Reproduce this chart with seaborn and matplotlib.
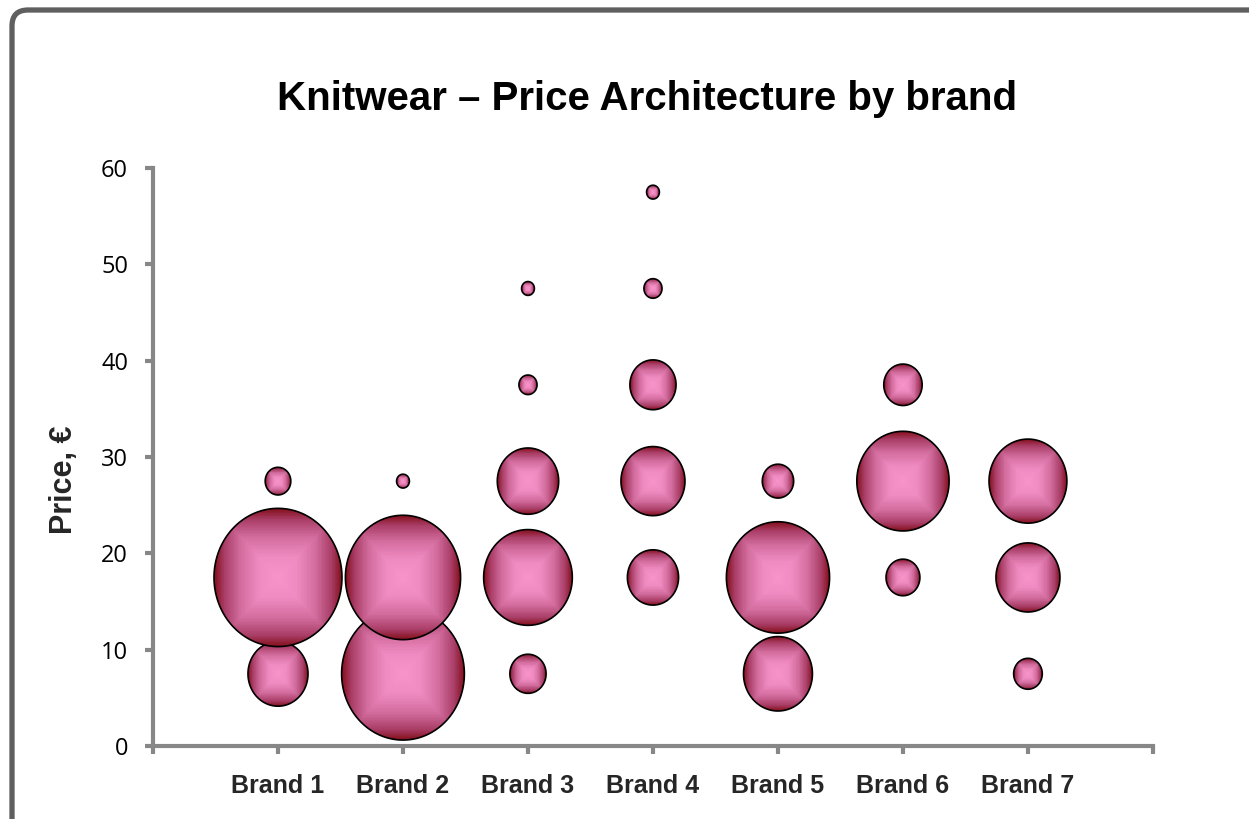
import numpy as np
import pandas as pd
import seaborn as sns
import matplotlib.pyplot as plt
from matplotlib.path import Path
from matplotlib.markers import MarkerStyle
from matplotlib.patches import FancyBboxPatch
from matplotlib.transforms import IdentityTransform
from matplotlib.colors import LinearSegmentedColormap

# Data - one entry per bubble
brands = ["Brand 1", "Brand 2", "Brand 3", "Brand 4", "Brand 5", "Brand 6", "Brand 7"]
bubble_brand = [1, 1, 1, 2, 2, 2, 3, 3, 3, 3, 3, 4, 4, 4, 4, 4, 5, 5, 5, 6, 6, 6, 7, 7, 7]
bubble_price = [7.5, 17.5, 27.5, 7.5, 17.5, 27.5, 7.5, 17.5, 27.5, 37.5, 47.5,
                17.5, 27.5, 37.5, 47.5, 57.5, 7.5, 17.5, 27.5, 17.5, 27.5, 37.5,
                7.5, 17.5, 27.5]
bubble_share = [22, 100, 4, 92, 81, 1, 8, 48, 23, 2, 1,
                16, 25, 13, 2, 1, 29, 65, 6, 7, 52, 9,
                5, 25, 37]
y_ticks = [0, 10, 20, 30, 40, 50, 60]

df = pd.DataFrame({"brand": bubble_brand, "price": bubble_price, "share": bubble_share})

sns.set_theme(style="white")
plt.rcParams["font.family"] = ["Liberation Sans", "DejaVu Sans"]

fig = plt.figure(figsize=(12.49, 8.19), dpi=100)
ax = fig.add_axes([0.1225, 0.0891, 0.8006, 0.7057])

size_per_unit = 99      # marker area (pt^2) per share point
stretch = 1.08          # bubbles are slightly taller than wide
grad = LinearSegmentedColormap.from_list(
    "knit", [(0, "#f994ca"), (0.3, "#f08bc2"), (0.6, "#d26c9d"),
             (0.85, "#a93d66"), (1, "#86121f")])


def layer_marker(lev):
    # rectangular gradient band: square of half-side lev clipped by the circle
    th = np.linspace(0, 2 * np.pi, 241)
    r = np.minimum(1.0, lev / np.maximum(np.abs(np.cos(th)), np.abs(np.sin(th))))
    verts = np.column_stack([r * np.cos(th), r * np.sin(th) * stretch])
    return MarkerStyle(Path(verts, closed=True))


levels = np.linspace(1.0, 0.03, 45)

# draw band by band so higher bands sit on top of lower ones
for i, price in enumerate(sorted(df["price"].unique())):
    band = df[df["price"] == price]
    base = band["share"].to_numpy() * size_per_unit
    z = 3 + 2 * i
    for lev in levels:
        sns.scatterplot(data=band, x="brand", y="price", s=base * lev ** 2,
                        marker=layer_marker(lev), color=grad(lev),
                        edgecolor="none", linewidth=0, legend=False, ax=ax, zorder=z)
    sns.scatterplot(data=band, x="brand", y="price", s=base,
                    marker=layer_marker(1.0), color="black", facecolor="none",
                    edgecolor="black", linewidth=1.2, legend=False, ax=ax, zorder=z + 1)

ax.set_xlim(0, 8)
ax.set_ylim(0, 60)
ax.set_xticks(range(0, 9))
ax.set_xticklabels([""] + brands + [""])
ax.set_yticks(y_ticks)
ax.set_xlabel("")
ax.set_ylabel("Price, €", fontsize=22, fontweight="bold", color="#262626")
ax.yaxis.set_label_coords(-0.074, 0.46)

for side in ["top", "right"]:
    ax.spines[side].set_visible(False)
for side in ["left", "bottom"]:
    ax.spines[side].set_color("#878787")
    ax.spines[side].set_linewidth(3)

ax.tick_params(axis="both", direction="out", length=6, width=3, color="#878787",
               bottom=True, left=True)
ax.tick_params(axis="x", pad=14, labelsize=18, labelcolor="#262626")
ax.tick_params(axis="y", pad=12, labelsize=17, labelcolor="black")
for lbl in ax.get_xticklabels():
    lbl.set_fontweight("bold")
for lbl in ax.get_yticklabels():
    lbl.set_fontfamily(["Open Sans", "DejaVu Sans"])

fig.text(0.5184, 1 - 110 / 819, "Knitwear – Price Architecture by brand",
         ha="center", va="baseline", fontsize=29, fontweight="bold", color="black")

# rounded chart frame (right and bottom edges fall outside the image)
frame = FancyBboxPatch((12, -40), 1320, 809 + 40, boxstyle="round,pad=0,rounding_size=16",
                       transform=IdentityTransform(), fc="none", ec="#5f5f5f", lw=3.8)
fig.add_artist(frame)

fig.savefig("out.png", dpi=100)
